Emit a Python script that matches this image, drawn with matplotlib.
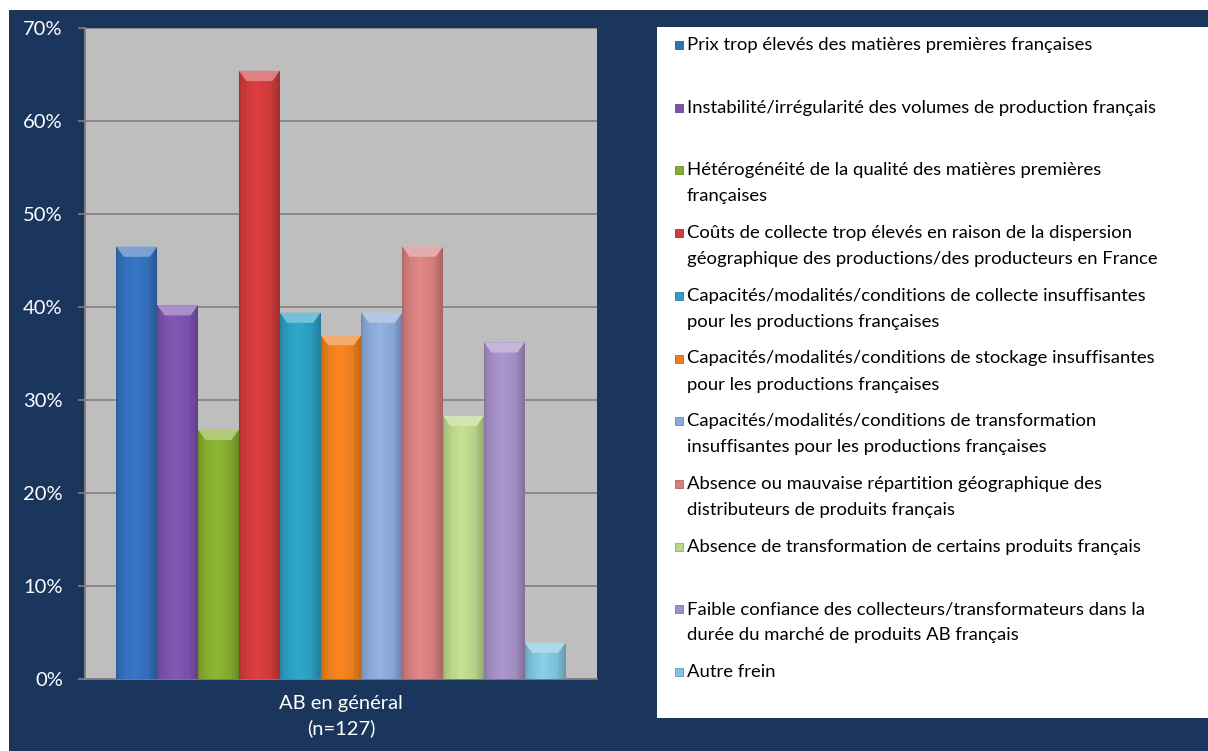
import numpy as np
import matplotlib.pyplot as plt
from matplotlib.patches import Rectangle, Polygon
from matplotlib.colors import to_rgb

# Freins à l'approvisionnement en matières premières françaises (AB, n=127)
categories = [
    "Prix trop élevés des matières premières françaises",
    "Instabilité/irrégularité des volumes de production français",
    "Hétérogénéité de la qualité des matières premières\nfrançaises",
    "Coûts de collecte trop élevés en raison de la dispersion\ngéographique des productions/des producteurs en France",
    "Capacités/modalités/conditions de collecte insuffisantes\npour les productions françaises",
    "Capacités/modalités/conditions de stockage insuffisantes\npour les productions françaises",
    "Capacités/modalités/conditions de transformation\ninsuffisantes pour les productions françaises",
    "Absence ou mauvaise répartition géographique des\ndistributeurs de produits français",
    "Absence de transformation de certains produits français",
    "Faible confiance des collecteurs/transformateurs dans la\ndurée du marché de produits AB français",
    "Autre frein",
]
values = [46.5, 40.2, 26.8, 65.4, 39.4, 37.0, 39.4, 46.5, 28.3, 36.2, 3.9]
colors = ["#3470BC", "#7D52AD", "#86AD30", "#D13B3B", "#2C9FC2", "#EE7F1E",
          "#8BA9D9", "#D67F7F", "#BCD68C", "#A38FC3", "#80C5DB"]
y_ticks = [0, 10, 20, 30, 40, 50, 60, 70]
x_label = "AB en général\n(n=127)"

NAVY = "#1A365D"
W, H = 1208, 751

plt.rcParams["font.family"] = ["Lato", "DejaVu Sans"]

fig = plt.figure(figsize=(W / 100, H / 100), dpi=100, facecolor="white")

# background panels, given in pixels from the top-left corner
def px_rect(x0, y0, x1, y1, color, z=-10):
    fig.patches.append(Rectangle((x0 / W, 1 - y1 / H), (x1 - x0) / W, (y1 - y0) / H,
                                 transform=fig.transFigure, facecolor=color,
                                 edgecolor="none", zorder=z))

px_rect(9, 10, W, H, NAVY, -10)
px_rect(657, 27, W, 718, "white", -9)

ax = fig.add_axes([85 / W, 1 - 679 / H, (597 - 85) / W, (679 - 28) / H])
ax.set_zorder(1)
ax.set_facecolor("#BEBEBE")
ax.set_xlim(-1.267, 11.267)
ax.set_ylim(0, 70)

ax.set_yticks(y_ticks)
ax.set_yticklabels([f"{t}%" for t in y_ticks])
ax.tick_params(axis="y", colors="#808080", labelcolor="white", labelsize=14.5,
               length=5, width=1.2, direction="out", pad=11)
ax.set_xticks([])
ax.yaxis.grid(True, color="#858585", linewidth=1.3)
ax.set_axisbelow(True)
for side in ["top", "right"]:
    ax.spines[side].set_visible(False)
for side in ["left", "bottom"]:
    ax.spines[side].set_color("#808080")
    ax.spines[side].set_linewidth(1.3)

x = np.arange(len(values))
bars = ax.bar(x, values, width=1.0, color=colors, edgecolor="none", zorder=2)

# horizontal shading across each bar plus a lighter bevel on top
t = np.linspace(0, 1, 64)
profile = np.interp(t, [0, 0.08, 0.45, 0.88, 1], [0.82, 0.96, 1.06, 0.95, 0.80])
bevel_w = 0.18
bevel_h = 1.1
for bar, c, v in zip(bars, colors, values):
    rgb = np.array(to_rgb(c))
    grad = np.clip(profile[:, None] * rgb[None, :], 0, 1)[None, :, :]
    x0 = bar.get_x()
    x1 = x0 + bar.get_width()
    im = ax.imshow(grad, extent=(x0, x1, 0, v), aspect="auto", zorder=3,
                   interpolation="bicubic")
    im.set_clip_path(bar)
    light = rgb + (1 - rgb) * 0.35
    ax.add_patch(Polygon([(x0, v), (x1, v), (x1 - bevel_w, v - bevel_h),
                          (x0 + bevel_w, v - bevel_h)],
                         closed=True, facecolor=light, edgecolor="none", zorder=4))
    ax.add_patch(Polygon([(x0, v), (x0 + bevel_w, v - bevel_h), (x0 + bevel_w, 0), (x0, 0)],
                         closed=True, facecolor=rgb * 0.85, edgecolor="none",
                         alpha=0.2, zorder=4))
    ax.add_patch(Polygon([(x1, v), (x1 - bevel_w, v - bevel_h), (x1 - bevel_w, 0), (x1, 0)],
                         closed=True, facecolor=rgb * 0.75, edgecolor="none",
                         alpha=0.25, zorder=4))

# category label under the axis
fig.text(341 / W, 1 - 716 / H, x_label, ha="center", va="center", color="white",
         fontsize=14.5, linespacing=1.5)

# legend drawn as markers and text in the white panel
for i, (lab, c) in enumerate(zip(categories, colors)):
    yc = 45 + i * 62.7
    rgb = np.array(to_rgb(c))
    fig.patches.append(Rectangle((675 / W, 1 - (yc + 4) / H), 8 / W, 8 / H,
                                 transform=fig.transFigure, facecolor=rgb,
                                 edgecolor=rgb * 0.8, linewidth=0.6, zorder=3))
    for j, line in enumerate(lab.split("\n")):
        fig.text(687 / W, 1 - (yc + j * 26) / H, line, ha="left", va="center",
                 color="black", fontsize=13.3)

fig.savefig("out.png", dpi=100, facecolor="white")
